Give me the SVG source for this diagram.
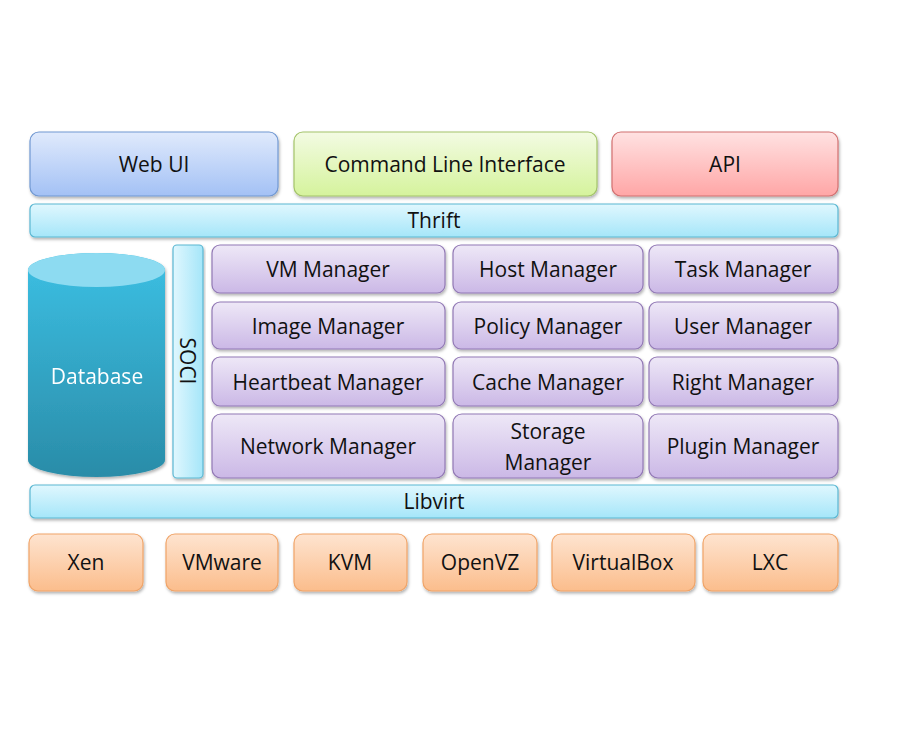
<svg xmlns="http://www.w3.org/2000/svg" width="900" height="750" viewBox="0 0 900 750">
<defs>
<linearGradient id="gBlue" x1="0" y1="0" x2="0" y2="1"><stop offset="0" stop-color="#e0eafc"/><stop offset="1" stop-color="#a3c1f5"/></linearGradient>
<linearGradient id="gGreen" x1="0" y1="0" x2="0" y2="1"><stop offset="0" stop-color="#f3fbe3"/><stop offset="1" stop-color="#d5f39c"/></linearGradient>
<linearGradient id="gRed" x1="0" y1="0" x2="0" y2="1"><stop offset="0" stop-color="#ffe2e2"/><stop offset="1" stop-color="#ffa6a6"/></linearGradient>
<linearGradient id="gCyan" x1="0" y1="0" x2="0" y2="1"><stop offset="0" stop-color="#e0f7fe"/><stop offset="1" stop-color="#a5e6f9"/></linearGradient>
<linearGradient id="gCyanH" x1="0" y1="0" x2="1" y2="0"><stop offset="0" stop-color="#e0f7fe"/><stop offset="1" stop-color="#a5e6f9"/></linearGradient>
<linearGradient id="gPurple" x1="0" y1="0" x2="0" y2="1"><stop offset="0" stop-color="#eee8f7"/><stop offset="1" stop-color="#cbb8e6"/></linearGradient>
<linearGradient id="gOrange" x1="0" y1="0" x2="0" y2="1"><stop offset="0" stop-color="#fee4d0"/><stop offset="1" stop-color="#fbbd8c"/></linearGradient>
<linearGradient id="gDb" x1="0" y1="0" x2="0" y2="1"><stop offset="0" stop-color="#3cc0e4"/><stop offset="1" stop-color="#2a8ca8"/></linearGradient>
<filter id="sh" x="-10%" y="-20%" width="120%" height="150%"><feDropShadow dx="1" dy="2" stdDeviation="1.5" flood-color="#000" flood-opacity="0.3"/></filter>
</defs>
<style>
text{font-family:"Open Sans","Liberation Sans",sans-serif;font-size:21px;fill:#111;text-anchor:middle;dominant-baseline:central}
.b{fill:url(#gBlue);stroke:#7198d2;stroke-width:1.2}
.g{fill:url(#gGreen);stroke:#a4c46a;stroke-width:1.2}
.r{fill:url(#gRed);stroke:#d27070;stroke-width:1.2}
.c{fill:url(#gCyan);stroke:#5ab7d2;stroke-width:1.2}
.p{fill:url(#gPurple);stroke:#9279b5;stroke-width:1.2}
.o{fill:url(#gOrange);stroke:#f0a468;stroke-width:1.2}
rect{filter:url(#sh)}
</style>
<rect width="900" height="750" fill="#fff" style="filter:none"/>
<g id="webui"><rect class="b" x="30" y="132" width="248" height="64" rx="9"/><text x="154" y="164">Web UI</text></g>
<g id="cli"><rect class="g" x="294" y="132" width="303" height="64" rx="9"/><text x="445" y="164">Command Line Interface</text></g>
<g id="api"><rect class="r" x="612" y="132" width="226" height="64" rx="9"/><text x="725" y="164">API</text></g>
<g id="thrift"><rect class="c" x="30" y="204" width="808" height="33" rx="5"/><text x="434" y="220">Thrift</text></g>
<g id="database" style="filter:url(#sh)">
<path d="M28,270 A68.5,17 0 0 1 165,270 L165,460 A68.5,17 0 0 1 28,460 Z" fill="url(#gDb)"/>
<ellipse cx="96.5" cy="270" rx="68.5" ry="17" fill="#8ddbf1"/>
<text x="97" y="376" style="fill:#fff">Database</text>
</g>
<g id="soci"><rect x="173" y="245" width="30" height="233" rx="4" fill="url(#gCyanH)" stroke="#5ab7d2" stroke-width="1.2"/><text transform="translate(188,361) rotate(90)">SOCI</text></g>
<g id="vm"><rect class="p" x="212" y="245" width="233" height="48" rx="8"/><text x="328" y="269">VM Manager</text></g>
<g id="host"><rect class="p" x="453" y="245" width="190" height="48" rx="8"/><text x="548" y="269">Host Manager</text></g>
<g id="task"><rect class="p" x="649" y="245" width="189" height="48" rx="8"/><text x="743" y="269">Task Manager</text></g>
<g id="image"><rect class="p" x="212" y="302" width="233" height="47" rx="8"/><text x="328" y="326">Image Manager</text></g>
<g id="policy"><rect class="p" x="453" y="302" width="190" height="47" rx="8"/><text x="548" y="326">Policy Manager</text></g>
<g id="user"><rect class="p" x="649" y="302" width="189" height="47" rx="8"/><text x="743" y="326">User Manager</text></g>
<g id="heartbeat"><rect class="p" x="212" y="357" width="233" height="49" rx="8"/><text x="328" y="382">Heartbeat Manager</text></g>
<g id="cache"><rect class="p" x="453" y="357" width="190" height="49" rx="8"/><text x="548" y="382">Cache Manager</text></g>
<g id="right"><rect class="p" x="649" y="357" width="189" height="49" rx="8"/><text x="743" y="382">Right Manager</text></g>
<g id="network"><rect class="p" x="212" y="414" width="233" height="64" rx="9"/><text x="328" y="446">Network Manager</text></g>
<g id="storage"><rect class="p" x="453" y="414" width="190" height="64" rx="9"/><text x="548" y="431">Storage</text><text x="548" y="462">Manager</text></g>
<g id="plugin"><rect class="p" x="649" y="414" width="189" height="64" rx="9"/><text x="743" y="446">Plugin Manager</text></g>
<g id="libvirt"><rect class="c" x="30" y="485" width="808" height="33" rx="5"/><text x="434" y="501">Libvirt</text></g>
<g id="xen"><rect class="o" x="29" y="534" width="114" height="57" rx="9"/><text x="86" y="562">Xen</text></g>
<g id="vmware"><rect class="o" x="166" y="534" width="112" height="57" rx="9"/><text x="222" y="562">VMware</text></g>
<g id="kvm"><rect class="o" x="294" y="534" width="113" height="57" rx="9"/><text x="350" y="562">KVM</text></g>
<g id="openvz"><rect class="o" x="423" y="534" width="114" height="57" rx="9"/><text x="480" y="562">OpenVZ</text></g>
<g id="virtualbox"><rect class="o" x="552" y="534" width="143" height="57" rx="9"/><text x="623" y="562">VirtualBox</text></g>
<g id="lxc"><rect class="o" x="703" y="534" width="135" height="57" rx="9"/><text x="770" y="562">LXC</text></g>
<g id="connectors"/>
</svg>
